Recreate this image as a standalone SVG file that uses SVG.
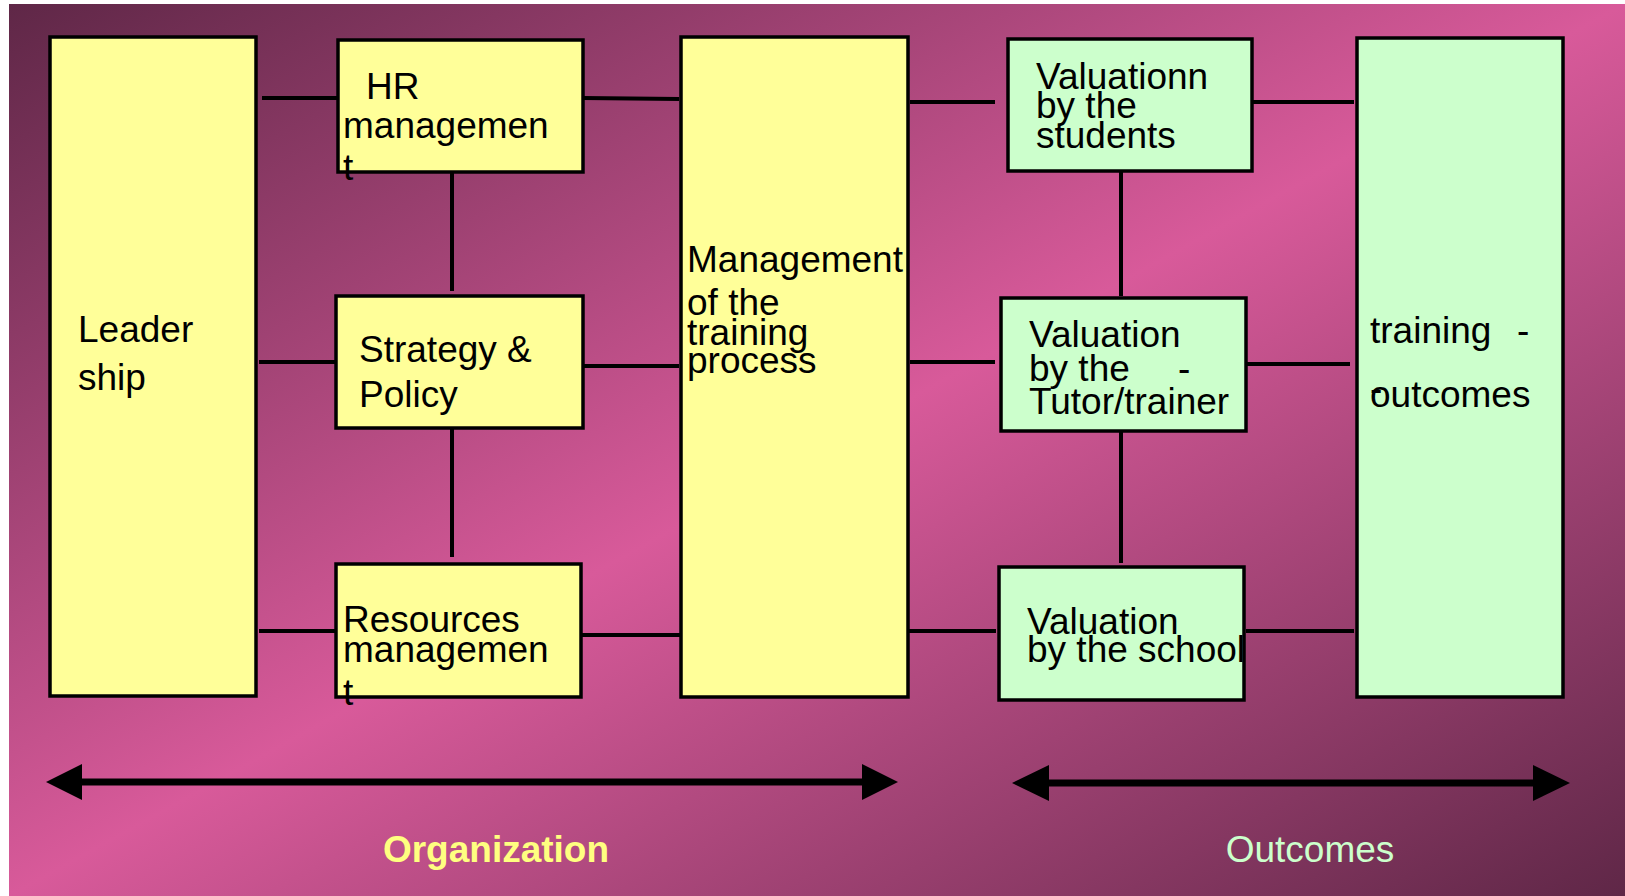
<svg xmlns="http://www.w3.org/2000/svg" width="1625" height="896" viewBox="0 0 1625 896">
<defs>
<linearGradient id="bg" x1="0" y1="0" x2="1" y2="1">
<stop offset="0" stop-color="#5f2747"/>
<stop offset="0.5" stop-color="#d85a9a"/>
<stop offset="1" stop-color="#5f2747"/>
</linearGradient>
<style>
.y{fill:#ffff99;stroke:#000;stroke-width:3.5}
.g{fill:#ccffcc;stroke:#000;stroke-width:3.5}
.t{font-family:"Liberation Sans",Arial,sans-serif;font-size:37px;fill:#000}
.c line{stroke:#000;stroke-width:4}
.a{stroke:#000;stroke-width:7}
.ah{fill:#000}
</style>
</defs>
<rect x="0" y="0" width="1625" height="896" fill="#ffffff"/>
<rect x="9" y="4" width="1616" height="892" fill="url(#bg)"/>

<g id="connectors" class="c">
<line x1="262" y1="98" x2="337" y2="98"/>
<line x1="583" y1="98" x2="679" y2="99"/>
<line x1="452" y1="172" x2="452" y2="291"/>
<line x1="259" y1="362" x2="336" y2="362"/>
<line x1="583" y1="366" x2="679" y2="366"/>
<line x1="452" y1="428" x2="452" y2="557"/>
<line x1="259" y1="631" x2="336" y2="631"/>
<line x1="581" y1="635" x2="681" y2="635"/>
<line x1="910" y1="102" x2="995" y2="102"/>
<line x1="1253" y1="102" x2="1354" y2="102"/>
<line x1="1121" y1="172" x2="1121" y2="296"/>
<line x1="910" y1="362" x2="995" y2="362"/>
<line x1="1240" y1="364" x2="1350" y2="364"/>
<line x1="1121" y1="431" x2="1121" y2="563"/>
<line x1="908" y1="631" x2="996" y2="631"/>
<line x1="1246" y1="631" x2="1354" y2="631"/>
</g>

<g id="leadership">
<rect class="y" x="50" y="37" width="206" height="659"/>
<text class="t" x="78" y="342">Leader</text>
<text class="t" x="78" y="390">ship</text>
</g>
<g id="hr">
<rect class="y" x="338" y="40" width="245" height="132"/>
<text class="t" x="366" y="99">HR</text>
<text class="t" x="343" y="138">managemen</text>
<text class="t" x="343" y="180">t</text>
</g>
<g id="strategy">
<rect class="y" x="336" y="296" width="247" height="132"/>
<text class="t" x="359" y="362">Strategy &amp;</text>
<text class="t" x="359" y="407">Policy</text>
</g>
<g id="resources">
<rect class="y" x="336" y="564" width="245" height="133"/>
<text class="t" x="343" y="632">Resources</text>
<text class="t" x="343" y="662">managemen</text>
<text class="t" x="343" y="705">t</text>
</g>
<g id="management">
<rect class="y" x="681" y="37" width="227" height="660"/>
<text class="t" x="687" y="272">Management</text>
<text class="t" x="687" y="315">of the</text>
<text class="t" x="687" y="345">training</text>
<text class="t" x="687" y="373">process</text>
</g>
<g id="students">
<rect class="g" x="1008" y="39" width="244" height="132"/>
<text class="t" x="1036" y="89">Valuationn</text>
<text class="t" x="1036" y="118">by the</text>
<text class="t" x="1036" y="148">students</text>
</g>
<g id="tutor">
<rect class="g" x="1001" y="298" width="245" height="133"/>
<text class="t" x="1029" y="347">Valuation</text>
<text class="t" x="1029" y="381">by the</text>
<text class="t" x="1178" y="381">-</text>
<text class="t" x="1029" y="414">Tutor/trainer</text>
</g>
<g id="school">
<rect class="g" x="999" y="567" width="245" height="133"/>
<text class="t" x="1027" y="634">Valuation</text>
<text class="t" x="1027" y="662">by the school</text>
</g>
<g id="outcomes">
<rect class="g" x="1357" y="38" width="206" height="659"/>
<text class="t" x="1370" y="343">training</text>
<text class="t" x="1517" y="343">-</text>
<text class="t" x="1370" y="401">-</text>
<text class="t" x="1370" y="407">outcomes</text>
</g>

<g id="arrow-organization">
<line class="a" x1="80" y1="782" x2="864" y2="782"/>
<polygon class="ah" points="46,782 82,764 82,800"/>
<polygon class="ah" points="898,782 862,764 862,800"/>
<text x="496" y="862" text-anchor="middle" font-family="'Liberation Sans',Arial,sans-serif" font-size="37" font-weight="bold" fill="#ffff80">Organization</text>
</g>
<g id="arrow-outcomes">
<line class="a" x1="1047" y1="783" x2="1535" y2="783"/>
<polygon class="ah" points="1012,783 1049,765 1049,801"/>
<polygon class="ah" points="1570,783 1533,765 1533,801"/>
<text x="1310" y="862" text-anchor="middle" font-family="'Liberation Sans',Arial,sans-serif" font-size="37" fill="#ccffcc">Outcomes</text>
</g>
</svg>
